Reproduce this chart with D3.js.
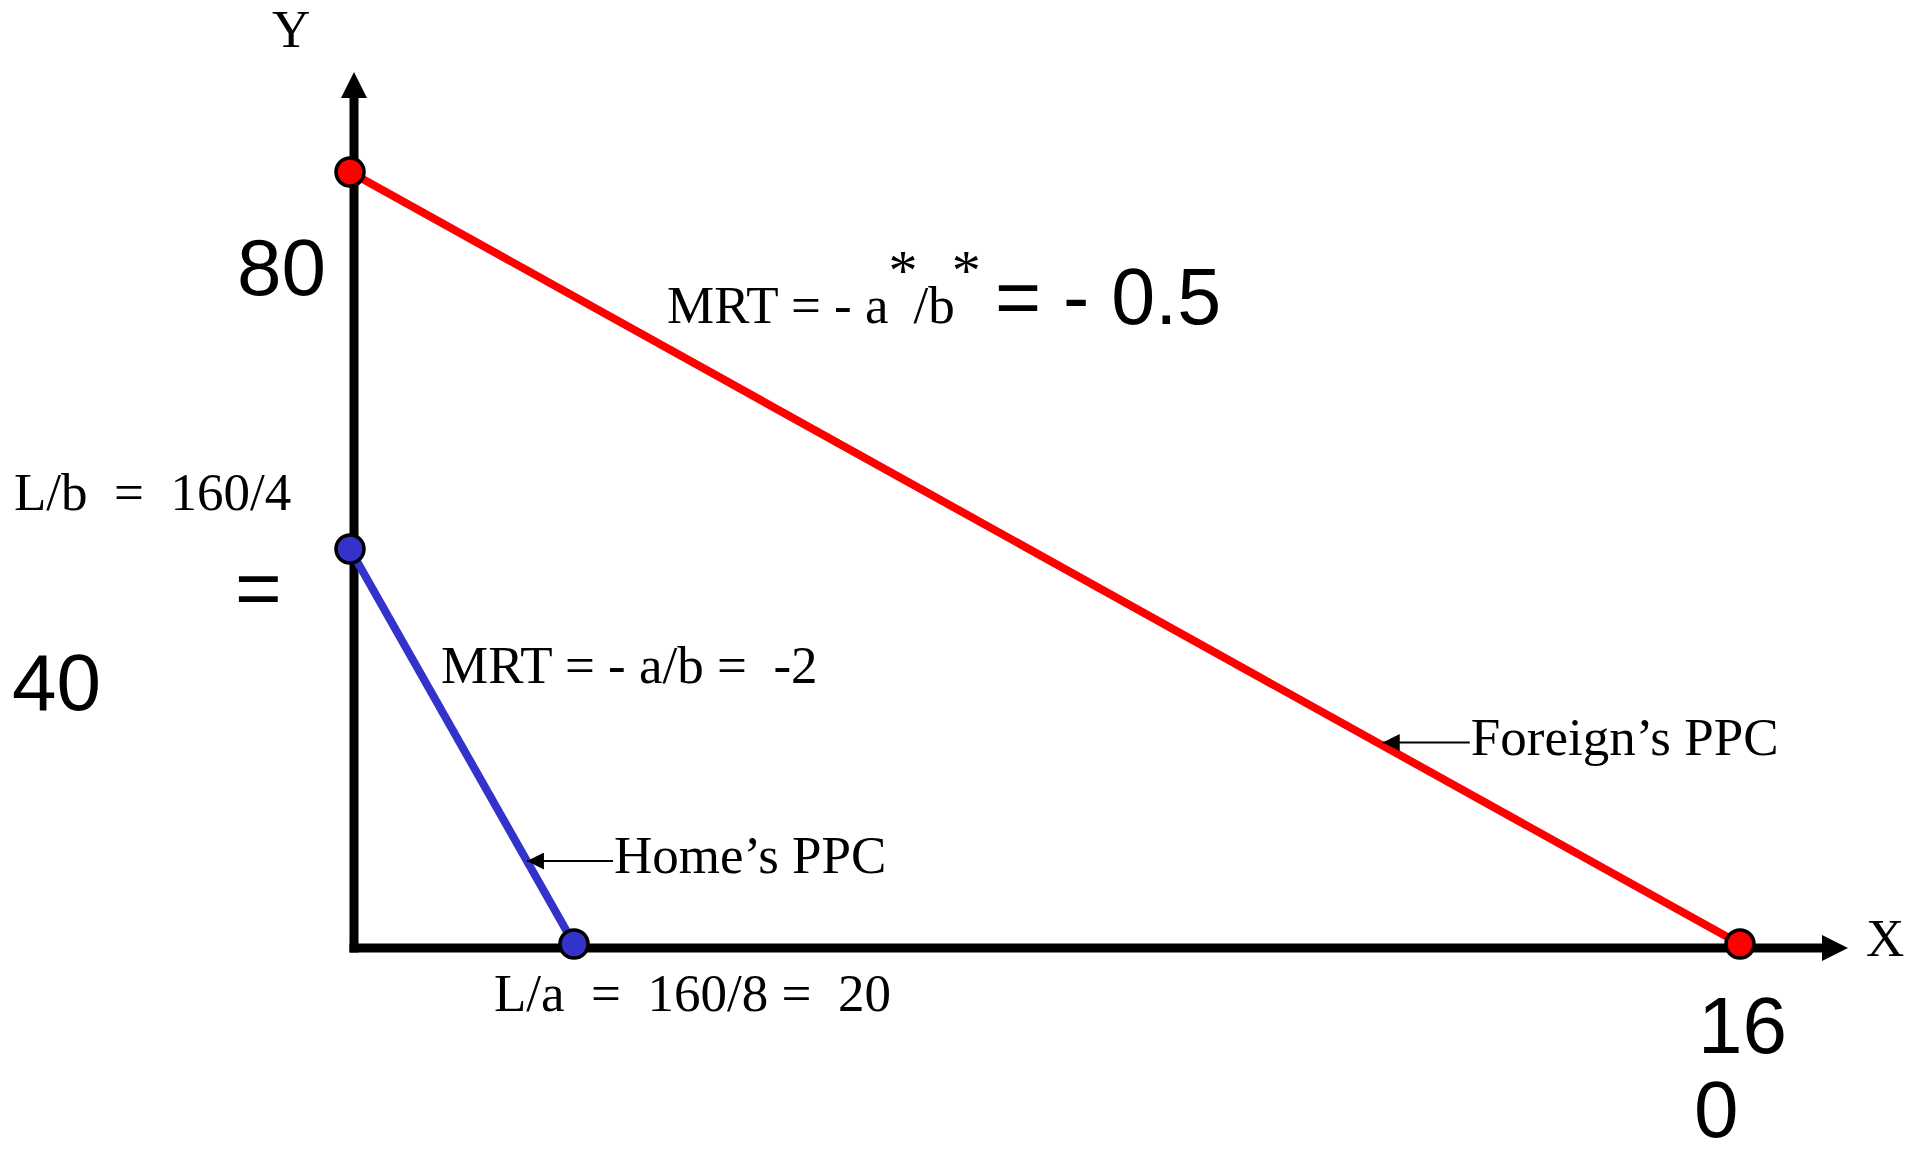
<!DOCTYPE html>
<html lang="en">
<head>
  <meta charset="UTF-8">
  <title>PPC - Home vs Foreign</title>
  <script src="https://d3js.org/d3.v7.min.js"></script>
  <style>
    body { margin: 0; background: #fff; }
    svg text { white-space: pre; }
    .serif { font-family: "Liberation Serif", "Times New Roman", serif; font-size: 53px; }
    .sans { font-family: "Liberation Sans", Arial, sans-serif; font-size: 80px; }
  </style>
</head>
<body>
<script>
  // PPC end points (x = good X, y = good Y)
  const homePPC = [{x: 0, y: 40}, {x: 20, y: 0}];
  const foreignPPC = [{x: 0, y: 80}, {x: 160, y: 0}];

  // values marked on the axes (schematic, not drawn to scale)
  const xMarks = [0, 20, 160];
  const yMarks = [0, 40, 80];

  const width = 1919;
  const height = 1151;

  const svg = d3.select("body")
    .append("svg")
    .attr("width", width)
    .attr("height", height);

  // piecewise scales - the original sketch isn't proportional
  const x = d3.scaleLinear()
    .domain(xMarks)
    .range([350, 574, 1740]);

  const y = d3.scaleLinear()
    .domain(yMarks)
    .range([944, 549, 172]);

  // axes - thick black lines with arrow heads
  const ax = x(0) + 4;
  const ay = y(0) + 4;

  svg.append("line")
    .attr("x1", ax).attr("y1", ay + 4.5)
    .attr("x2", ax).attr("y2", 96)
    .attr("stroke", "black")
    .attr("stroke-width", 9);

  svg.append("path")
    .attr("d", `M${ax},72 L${ax - 13},98 L${ax + 13},98 Z`)
    .attr("fill", "black");

  svg.append("line")
    .attr("x1", ax - 4.5).attr("y1", ay)
    .attr("x2", 1824).attr("y2", ay)
    .attr("stroke", "black")
    .attr("stroke-width", 9);

  svg.append("path")
    .attr("d", `M1848,${ay} L1822,${ay - 13} L1822,${ay + 13} Z`)
    .attr("fill", "black");

  svg.append("text").attr("class", "serif")
    .attr("x", 272).attr("y", 47)
    .text("Y");

  svg.append("text").attr("class", "serif")
    .attr("x", 1866).attr("y", 956)
    .text("X");

  // PPC lines
  const line = d3.line()
    .x(d => x(d.x))
    .y(d => y(d.y));

  svg.append("path")
    .datum(foreignPPC)
    .attr("fill", "none")
    .attr("stroke", "#ff0000")
    .attr("stroke-width", 8)
    .attr("d", line);

  svg.append("path")
    .datum(homePPC)
    .attr("fill", "none")
    .attr("stroke", "#3333cc")
    .attr("stroke-width", 8)
    .attr("d", line);

  // end points
  const dots = [
    ...foreignPPC.map(d => ({...d, c: "#ff0000"})),
    ...homePPC.map(d => ({...d, c: "#3333cc"}))
  ];

  svg.selectAll("circle")
    .data(dots)
    .enter()
    .append("circle")
    .attr("cx", d => x(d.x))
    .attr("cy", d => y(d.y))
    .attr("r", 14)
    .attr("fill", d => d.c)
    .attr("stroke", "black")
    .attr("stroke-width", 3.5);

  // small arrow head for the labels
  svg.append("defs")
    .append("marker")
    .attr("id", "arr")
    .attr("viewBox", "0 0 10 10")
    .attr("refX", 10).attr("refY", 5)
    .attr("markerUnits", "userSpaceOnUse")
    .attr("markerWidth", 18).attr("markerHeight", 17)
    .attr("orient", "auto")
    .append("path")
    .attr("d", "M0,0 L10,5 L0,10 Z")
    .attr("fill", "black");

  function pointOn(data, t) {
    const a = data[0], b = data[1];
    return [x(a.x) + (x(b.x) - x(a.x)) * t, y(a.y) + (y(b.y) - y(a.y)) * t];
  }

  const homeTip = pointOn(homePPC, 0.79);
  svg.append("line")
    .attr("x1", homeTip[0] + 86).attr("y1", homeTip[1])
    .attr("x2", homeTip[0]).attr("y2", homeTip[1])
    .attr("stroke", "black").attr("stroke-width", 2)
    .attr("marker-end", "url(#arr)");
  svg.append("text").attr("class", "serif")
    .attr("x", homeTip[0] + 87).attr("y", homeTip[1] + 12)
    .text("Home’s PPC");

  const forTip = pointOn(foreignPPC, 0.743);
  svg.append("line")
    .attr("x1", forTip[0] + 87).attr("y1", forTip[1] - 3)
    .attr("x2", forTip[0]).attr("y2", forTip[1] - 3)
    .attr("stroke", "black").attr("stroke-width", 2)
    .attr("marker-end", "url(#arr)");
  svg.append("text").attr("class", "serif")
    .attr("x", forTip[0] + 88).attr("y", forTip[1] + 9)
    .text("Foreign’s PPC");

  // MRT labels
  const mrtF = svg.append("text").attr("class", "serif")
    .attr("x", 667).attr("y", 323);
  mrtF.append("tspan").text("MRT = - a");
  mrtF.append("tspan").attr("dy", -33).style("font-size", "58px").text("*");
  mrtF.append("tspan").attr("dy", 33).attr("dx", -4).text("/b");
  mrtF.append("tspan").attr("dy", -33).attr("dx", -3).style("font-size", "58px").text("*");

  svg.append("text").attr("class", "sans")
    .attr("x", 995).attr("y", 324)
    .style("font-size", "79px")
    .style("font-weight", 500)
    .text("= - 0.5");

  svg.append("text").attr("class", "serif")
    .attr("x", 441).attr("y", 683)
    .text("MRT = - a/b =  -2");

  // intercept labels
  svg.append("text").attr("class", "sans")
    .attr("x", 237).attr("y", 295)
    .text(yMarks[2]);

  svg.append("text").attr("class", "serif")
    .attr("x", 14).attr("y", 510)
    .text("L/b  =  160/4");

  svg.append("text").attr("class", "sans")
    .attr("x", 235).attr("y", 615)
    .text("=");

  svg.append("text").attr("class", "sans")
    .attr("x", 12).attr("y", 710)
    .text(yMarks[1]);

  svg.append("text").attr("class", "serif")
    .attr("x", 494).attr("y", 1011)
    .text("L/a  =  160/8 =  " + xMarks[1]);

  // "160" wraps onto two lines in the original
  const lab160 = String(xMarks[2]);
  svg.append("text").attr("class", "sans")
    .attr("x", 1698).attr("y", 1053)
    .text(lab160.slice(0, 2));
  svg.append("text").attr("class", "sans")
    .attr("x", 1694).attr("y", 1137)
    .text(lab160.slice(2));
</script>
</body>
</html>
